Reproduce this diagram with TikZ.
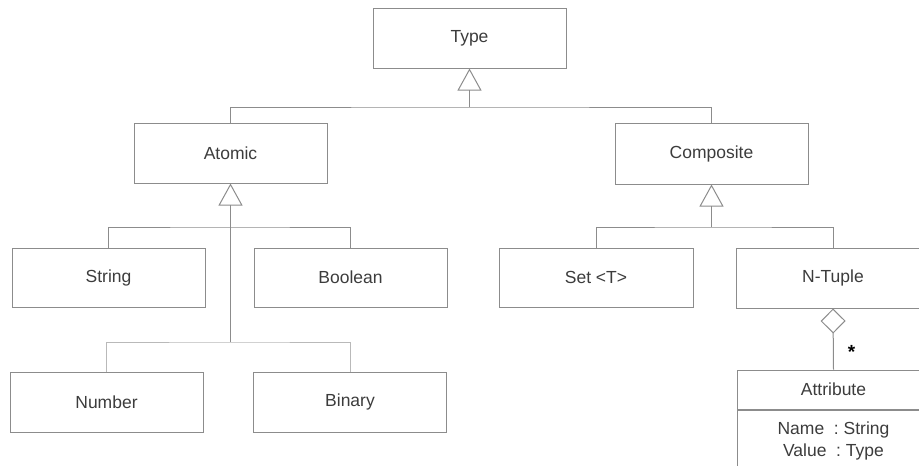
\documentclass[tikz,border=0pt]{standalone}
\usepackage{fontspec}
\setmainfont{Liberation Sans}
\usetikzlibrary{arrows.meta}
\definecolor{linegray}{RGB}{140,140,140}
\definecolor{lightgray2}{RGB}{185,185,185}
\definecolor{textgray}{RGB}{60,60,60}
\begin{document}
\begin{tikzpicture}[x=1pt,y=-1pt,
  cls/.style={draw=linegray, line width=1pt, minimum width=193pt, minimum height=60pt, inner sep=0pt,
    text=textgray, font=\fontsize{17.5}{22}\selectfont},
  conn/.style={draw=linegray, line width=1pt},
  connlight/.style={draw=lightgray2, line width=1pt},
  gen/.style={-{Triangle[open,length=22pt,width=24pt]}},
  agg/.style={{Diamond[open,length=25pt,width=25pt]}-}
]
\useasboundingbox (0,0) rectangle (919,466);
\clip (0,0) rectangle (919,466);

\node[cls] (type) at (469.5,38) {Type};
\node[cls] (atomic) at (230.5,153) {Atomic};
\node[cls, minimum height=61pt] (composite) at (711.5,153.5) {Composite};
\node[cls, minimum height=59pt] (string) at (108.5,277.5) {String};
\node[cls, minimum height=59pt] (boolean) at (350.5,277.5) {Boolean};
\node[cls] (number) at (106.5,402) {Number};
\node[cls] (binary) at (350,402) {Binary};
\node[cls, minimum height=59pt, minimum width=194pt] (set) at (596,277.5) {Set <T>};
\node[cls] (ntuple) at (833,278) {N-Tuple};
\node[cls, minimum height=39pt] (attr) at (833.5,389.5) {Attribute};
\node[cls, anchor=north, minimum height=62pt, align=center] (attrbody) at (attr.south) {Name\ \ :\ String\\Value\ \ :\ Type};

\coordinate (j0) at (469.5,107);
\coordinate (ja) at (230.5,227);
\coordinate (jb) at (230.5,342);
\coordinate (jc) at (711.5,227);

\draw[conn, gen] (j0) -- (type.south);
\draw[conn] (atomic.north) |- (j0) -| (composite.north);

\draw[conn, gen] (jb) -- (atomic.south);
\draw[conn] (string.north) |- (ja) -| (boolean.north);
\draw[connlight] (number.north) |- (jb) -| (binary.north);

\draw[conn, gen] (jc) -- (composite.south);
\draw[conn] (set.north) |- (jc) -| (ntuple.north);

\draw[conn, agg] (ntuple.south) -- node[pos=0.72, right=14pt, text=black, font=\fontsize{19}{19}\selectfont\bfseries, inner sep=0pt] (star) {*} (attr.north);
\end{tikzpicture}
\end{document}
